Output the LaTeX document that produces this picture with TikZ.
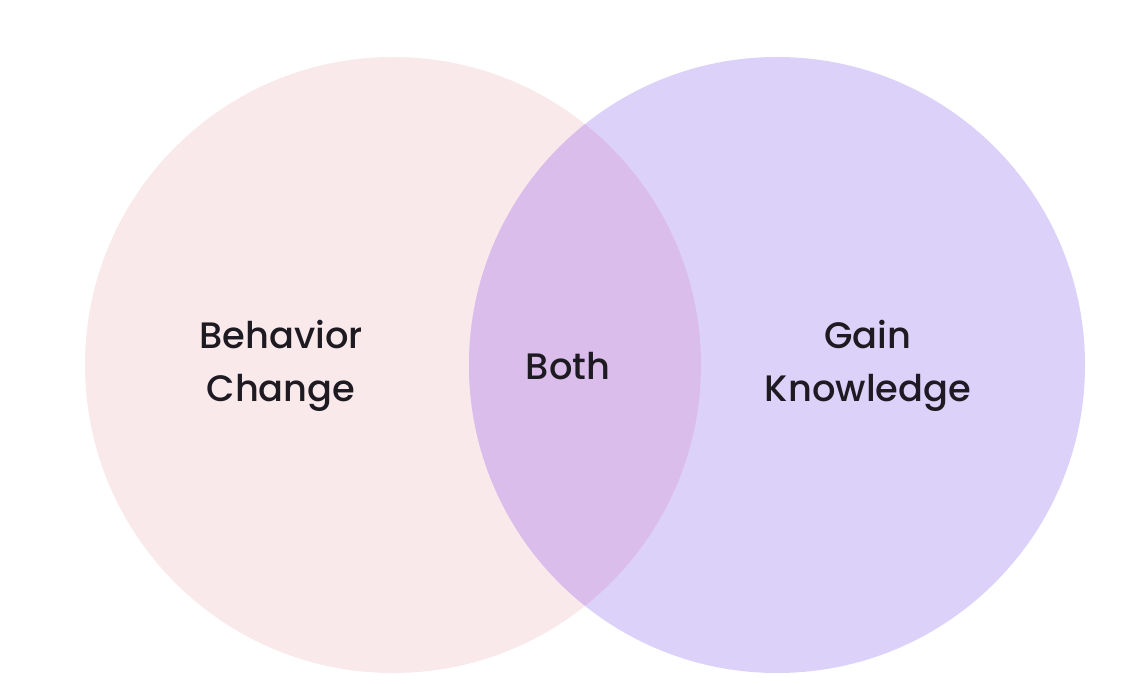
\documentclass[tikz,border=0pt]{standalone}
\usepackage{fontspec}
\setmainfont{Poppins Medium}
\definecolor{pinkc}{HTML}{FAE9EB}
\definecolor{lavc}{HTML}{DCD1F9}
\definecolor{bothc}{HTML}{DABDEB}
\definecolor{txt}{HTML}{1E1A22}
\begin{document}
\begin{tikzpicture}[x=1pt,y=-1pt,
  lbl/.style={text=txt,font=\fontsize{36.8}{53}\selectfont,align=center}]
\useasboundingbox (0,0) rectangle (1148,684);
\fill[white] (0,0) rectangle (1148,684);
\fill[pinkc] (393,365) circle (308);
\fill[lavc] (777,365) circle (308);
\begin{scope}
  \clip (393,365) circle (308);
  \fill[bothc] (777,365) circle (308);
\end{scope}
\node[lbl] (left) at (281,366) {Behavior\\Change};
\node[lbl] (mid) at (568,366) {Both};
\node[lbl] (right) at (868,366) {Gain\\Knowledge};
\end{tikzpicture}
\end{document}
